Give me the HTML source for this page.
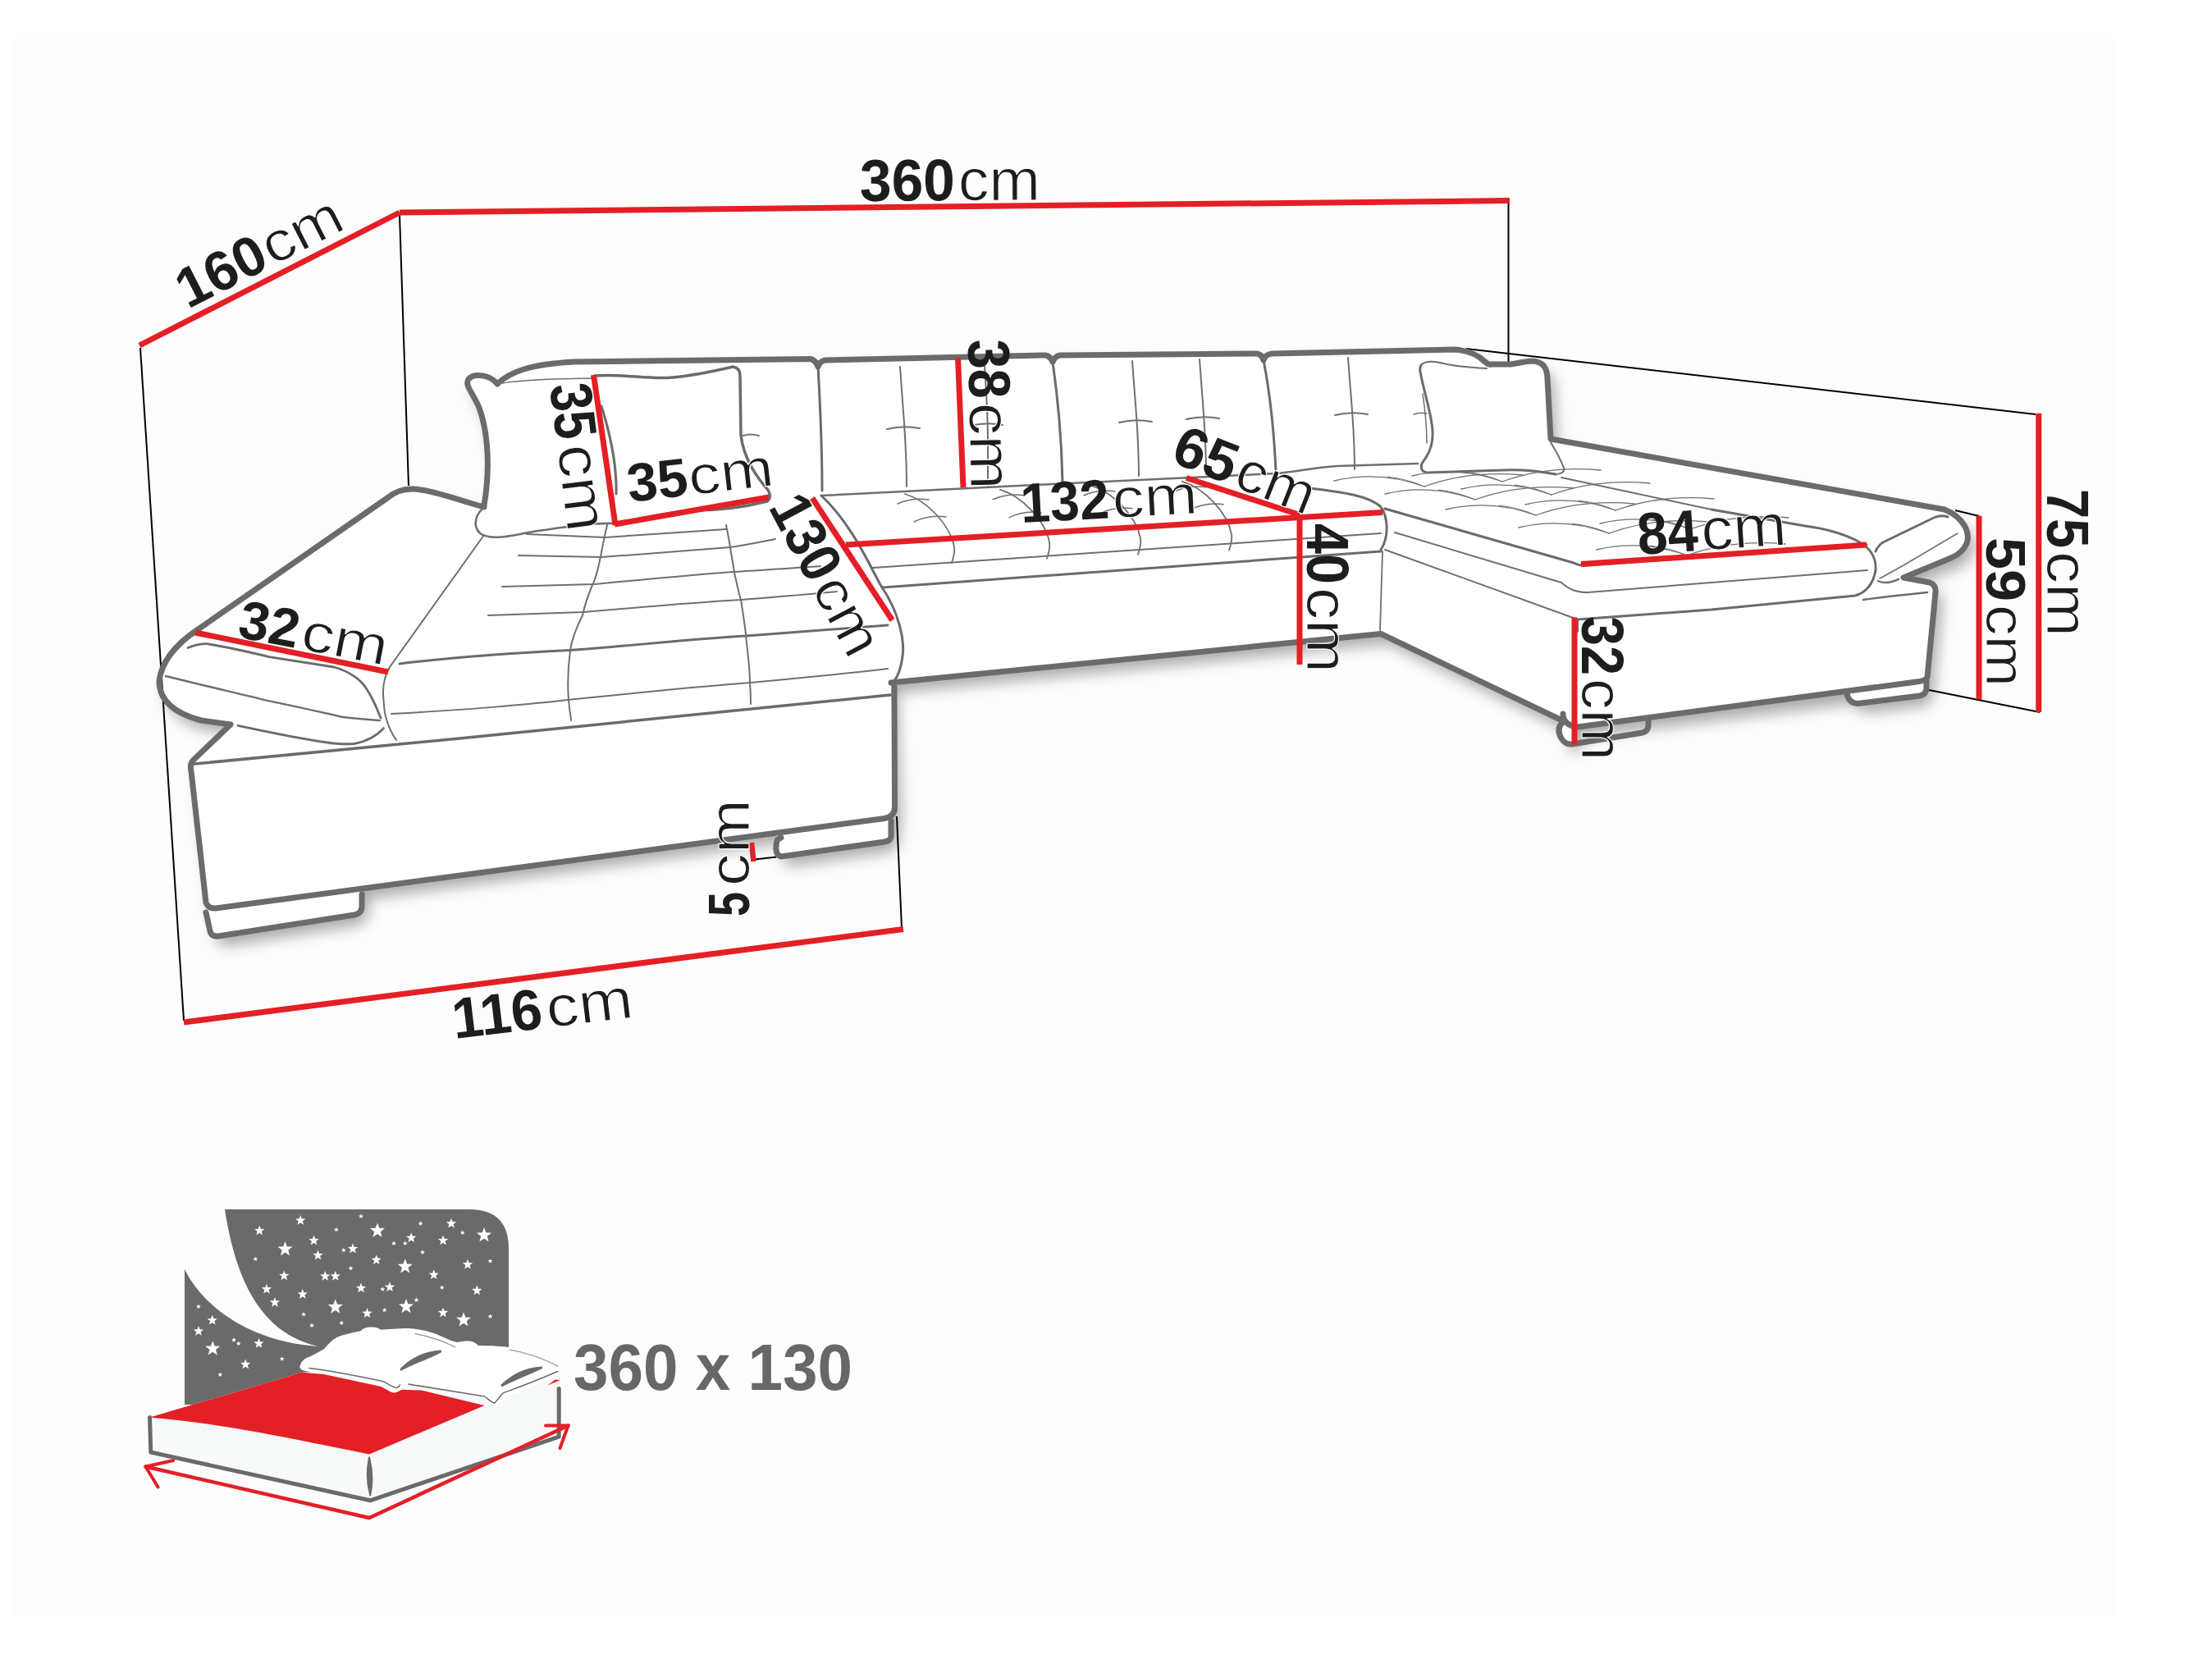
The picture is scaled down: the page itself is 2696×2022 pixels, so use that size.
<!DOCTYPE html>
<html><head><meta charset="utf-8"><style>
html,body{margin:0;padding:0;background:#fff;width:2696px;height:2022px;overflow:hidden}
svg{display:block;font-family:"Liberation Sans",sans-serif}
</style></head><body>
<svg width="2696" height="2022" viewBox="0 0 2696 2022">
<rect x="16" y="46" width="2562" height="1922" fill="#fdfdfd"/>
<defs><filter id="sh" x="-10%" y="-10%" width="120%" height="130%"><feGaussianBlur stdDeviation="9"/></filter></defs>
<path d="M472,607 C480,600 490,595 505,596 C530,598 560,610 590,618 C597,575 596,530 584,497 C576,478 566,470 571,462 C578,454 598,457 606,468 C622,453 645,444 700,441 L1773,426 C1790,427 1803,436 1815,445 L1840,444 C1850,443 1860,440 1868,440 C1882,441 1886,450 1886,462 L1890,535 L2370,621 C2392,630 2402,648 2397,662 C2393,672 2385,677 2378,680 L2320,704 L2352,710 Q2360,713 2359,722 L2349,825 L2348,838 L2340,848 L2264,857 L2251,845 L1923,886 L1916,907 L1903,900 L1905,880 L1683,772.5 L1086,832 L1090,985 L1086,1020 L1078,1026 L952,1044 L946,1032 L946,1015 L441,1083 L441,1105 L432,1115 L266,1141 L256,1135 L251,1100 L233,940 L235,927 L281,883 L245,878 C215,870 194,855 194,830 C197,805 215,785 240,768 Z" fill="#000" opacity="0.33" transform="translate(8,12)" filter="url(#sh)"/>
<path d="M472,607 C480,600 490,595 505,596 C530,598 560,610 590,618 C597,575 596,530 584,497 C576,478 566,470 571,462 C578,454 598,457 606,468 C622,453 645,444 700,441 L1773,426 C1790,427 1803,436 1815,445 L1840,444 C1850,443 1860,440 1868,440 C1882,441 1886,450 1886,462 L1890,535 L2370,621 C2392,630 2402,648 2397,662 C2393,672 2385,677 2378,680 L2320,704 L2352,710 Q2360,713 2359,722 L2349,825 L2348,838 L2340,848 L2264,857 L2251,845 L1923,886 L1916,907 L1903,900 L1905,880 L1683,772.5 L1086,832 L1090,985 L1086,1020 L1078,1026 L952,1044 L946,1032 L946,1015 L441,1083 L441,1105 L432,1115 L266,1141 L256,1135 L251,1100 L233,940 L235,927 L281,883 L245,878 C215,870 194,855 194,830 C197,805 215,785 240,768 Z" fill="#fff"/>
<line x1="171" y1="424" x2="224" y2="1244" stroke="#000" stroke-width="2"/>
<line x1="487" y1="262" x2="498" y2="592" stroke="#000" stroke-width="2"/>
<line x1="1838.5" y1="248" x2="1838.5" y2="444" stroke="#000" stroke-width="2"/>
<line x1="1787" y1="425" x2="2481" y2="505" stroke="#000" stroke-width="2"/>
<line x1="1093" y1="995" x2="1099" y2="1131" stroke="#000" stroke-width="2"/>
<line x1="2383" y1="622" x2="2412" y2="629" stroke="#000" stroke-width="2"/>
<line x1="2351" y1="841" x2="2486" y2="868" stroke="#000" stroke-width="2"/>
<line x1="920" y1="1047.5" x2="946" y2="1044.5" stroke="#000" stroke-width="2"/>
<path d="M590,616 C597,575 596,530 584,497 C576,478 566,470 571,462 C578,454 598,457 606,468 C622,453 645,444 700,441 L988,437.5 Q994,439 997,447 Q999,440 1006,439 L1274,433 Q1280,434 1283,441 Q1286,434 1292,433 L1532,431 Q1538,432 1540,439 Q1542,432 1550,431 L1773,426 C1790,427 1802,433 1810,441 Q1814,445 1818,444 L1840,444 C1850,443 1860,440 1868,440 C1882,441 1886,450 1886,462 L1890,535 L2370,621 C2392,630 2402,648 2397,662 C2393,672 2385,677 2378,680 L2320,704 L2352,710 Q2360,713 2359,722 L2349,825 Q2347,830 2336,831 L1923,886 Q1905,884 1905,870 " stroke="#6b6b6b" stroke-width="7" fill="none" stroke-linecap="round" stroke-linejoin="round" />
<path d="M590,618 C560,610 530,598 505,596 C490,595 480,600 472,607 L240,768 C215,785 197,805 194,830 C194,855 215,870 245,878 L281,883 L235,927 Q231,932 233,940 L251,1100 Q254,1108 263,1107 L1078,997.5 Q1090,995 1090.5,985 L1090,838" stroke="#6b6b6b" stroke-width="7" fill="none" stroke-linecap="round" stroke-linejoin="round" />
<path d="M1086,832 L1683,772.5 L1908,880" stroke="#6b6b6b" stroke-width="7" fill="none" stroke-linecap="round" stroke-linejoin="round" />
<path d="M251,1112 L256,1135 Q258,1142 266,1141 L432,1115 Q441,1113 441,1105 L441,1090" stroke="#6b6b6b" stroke-width="7" fill="none" stroke-linecap="round" stroke-linejoin="round" />
<path d="M1086,1000 L1086,1020 Q1085,1025 1078,1026 L952,1044 Q945,1042 946,1032 Q946,1022 952,1021" stroke="#6b6b6b" stroke-width="7" fill="none" stroke-linecap="round" stroke-linejoin="round" />
<path d="M1905,880 Q1896,888 1903,900 Q1908,908 1916,907 L2002,893 Q2009,891 2009,884 L2009,877" stroke="#6b6b6b" stroke-width="7" fill="none" stroke-linecap="round" stroke-linejoin="round" />
<path d="M2251,845 Q2253,857 2264,857.5 L2340,848 Q2348,846 2348,838 L2348,830" stroke="#6b6b6b" stroke-width="7" fill="none" stroke-linecap="round" stroke-linejoin="round" />
<path d="M274,1474 H572 Q620,1474 620,1522 V1712 H225 V1547 C250,1597 310,1636 388,1641 C330,1628 290,1580 274,1474 Z" fill="#6a6a6a"/>
<polygon points="366.2,1481.0 367.9,1485.3 372.4,1485.5 368.8,1488.3 370.1,1492.8 366.2,1490.2 362.4,1492.8 363.7,1488.3 360.1,1485.5 364.6,1485.3" fill="#fff"/>
<polygon points="316.2,1493.5 317.9,1497.8 322.4,1498.0 318.8,1500.8 320.1,1505.3 316.2,1502.7 312.4,1505.3 313.7,1500.8 310.1,1498.0 314.6,1497.8" fill="#fff"/>
<polygon points="440.0,1479.3 440.8,1481.4 443.0,1481.5 441.3,1482.9 441.9,1485.1 440.0,1483.8 438.1,1485.1 438.7,1482.9 437.0,1481.5 439.2,1481.4" fill="#fff"/>
<polygon points="410.0,1495.5 410.8,1497.7 413.0,1497.8 411.3,1499.2 411.9,1501.3 410.0,1500.1 408.1,1501.3 408.7,1499.2 407.0,1497.8 409.2,1497.7" fill="#fff"/>
<polygon points="460.0,1490.5 462.3,1496.8 469.0,1497.1 463.8,1501.2 465.6,1507.7 460.0,1504.0 454.4,1507.7 456.2,1501.2 451.0,1497.1 457.7,1496.8" fill="#fff"/>
<polygon points="512.5,1488.0 513.3,1490.2 515.5,1490.3 513.8,1491.7 514.4,1493.8 512.5,1492.6 510.6,1493.8 511.2,1491.7 509.5,1490.3 511.7,1490.2" fill="#fff"/>
<polygon points="550.0,1484.8 551.6,1489.0 556.2,1489.2 552.6,1492.1 553.8,1496.5 550.0,1494.0 546.2,1496.5 547.4,1492.1 543.8,1489.2 548.4,1489.0" fill="#fff"/>
<polygon points="563.8,1499.3 564.5,1501.4 566.8,1501.5 565.0,1502.9 565.6,1505.1 563.8,1503.8 561.9,1505.1 562.5,1502.9 560.7,1501.5 563.0,1501.4" fill="#fff"/>
<polygon points="590.0,1496.0 592.3,1502.3 599.0,1502.6 593.8,1506.7 595.6,1513.2 590.0,1509.5 584.4,1513.2 586.2,1506.7 581.0,1502.6 587.7,1502.3" fill="#fff"/>
<polygon points="382.5,1505.5 384.1,1509.8 388.7,1510.0 385.1,1512.8 386.3,1517.3 382.5,1514.7 378.7,1517.3 379.9,1512.8 376.3,1510.0 380.9,1509.8" fill="#fff"/>
<polygon points="501.2,1502.2 502.9,1506.5 507.4,1506.7 503.8,1509.6 505.1,1514.0 501.2,1511.5 497.4,1514.0 498.7,1509.6 495.1,1506.7 499.6,1506.5" fill="#fff"/>
<polygon points="540.0,1505.5 541.6,1509.8 546.2,1510.0 542.6,1512.8 543.8,1517.3 540.0,1514.7 536.2,1517.3 537.4,1512.8 533.8,1510.0 538.4,1509.8" fill="#fff"/>
<polygon points="480.0,1512.3 480.8,1514.4 483.0,1514.5 481.3,1515.9 481.9,1518.1 480.0,1516.8 478.1,1518.1 478.7,1515.9 477.0,1514.5 479.2,1514.4" fill="#fff"/>
<polygon points="493.8,1512.3 494.5,1514.4 496.8,1514.5 495.0,1515.9 495.6,1518.1 493.8,1516.8 491.9,1518.1 492.5,1515.9 490.7,1514.5 493.0,1514.4" fill="#fff"/>
<polygon points="347.5,1513.0 349.8,1519.3 356.5,1519.6 351.3,1523.7 353.1,1530.2 347.5,1526.5 341.9,1530.2 343.7,1523.7 338.5,1519.6 345.2,1519.3" fill="#fff"/>
<polygon points="418.8,1520.5 419.5,1522.7 421.8,1522.8 420.0,1524.2 420.6,1526.3 418.8,1525.1 416.9,1526.3 417.5,1524.2 415.7,1522.8 418.0,1522.7" fill="#fff"/>
<polygon points="430.0,1515.5 431.6,1519.8 436.2,1520.0 432.6,1522.8 433.8,1527.3 430.0,1524.7 426.2,1527.3 427.4,1522.8 423.8,1520.0 428.4,1519.8" fill="#fff"/>
<polygon points="515.0,1523.0 515.8,1525.2 518.0,1525.3 516.3,1526.7 516.9,1528.8 515.0,1527.6 513.1,1528.8 513.7,1526.7 512.0,1525.3 514.2,1525.2" fill="#fff"/>
<polygon points="311.2,1531.3 312.0,1533.4 314.3,1533.5 312.5,1534.9 313.1,1537.1 311.2,1535.8 309.4,1537.1 310.0,1534.9 308.2,1533.5 310.5,1533.4" fill="#fff"/>
<polygon points="387.5,1523.5 389.1,1527.8 393.7,1528.0 390.1,1530.8 391.3,1535.3 387.5,1532.7 383.7,1535.3 384.9,1530.8 381.3,1528.0 385.9,1527.8" fill="#fff"/>
<polygon points="458.8,1529.2 460.4,1533.5 464.9,1533.7 461.3,1536.6 462.6,1541.0 458.8,1538.5 454.9,1541.0 456.2,1536.6 452.6,1533.7 457.1,1533.5" fill="#fff"/>
<polygon points="597.5,1533.8 598.3,1535.9 600.5,1536.0 598.8,1537.4 599.4,1539.6 597.5,1538.3 595.6,1539.6 596.2,1537.4 594.5,1536.0 596.7,1535.9" fill="#fff"/>
<polygon points="493.8,1534.2 496.1,1540.5 502.8,1540.8 497.5,1545.0 499.3,1551.4 493.8,1547.7 488.2,1551.4 490.0,1545.0 484.7,1540.8 491.4,1540.5" fill="#fff"/>
<polygon points="570.0,1534.8 571.6,1539.0 576.2,1539.2 572.6,1542.1 573.8,1546.5 570.0,1544.0 566.2,1546.5 567.4,1542.1 563.8,1539.2 568.4,1539.0" fill="#fff"/>
<polygon points="427.5,1542.5 428.3,1544.7 430.5,1544.8 428.8,1546.2 429.4,1548.3 427.5,1547.1 425.6,1548.3 426.2,1546.2 424.5,1544.8 426.7,1544.7" fill="#fff"/>
<polygon points="346.2,1548.5 347.9,1552.8 352.4,1553.0 348.8,1555.8 350.1,1560.3 346.2,1557.7 342.4,1560.3 343.7,1555.8 340.1,1553.0 344.6,1552.8" fill="#fff"/>
<polygon points="396.2,1549.0 397.9,1553.3 402.4,1553.5 398.8,1556.3 400.1,1560.8 396.2,1558.2 392.4,1560.8 393.7,1556.3 390.1,1553.5 394.6,1553.3" fill="#fff"/>
<polygon points="408.8,1549.0 410.4,1553.3 414.9,1553.5 411.3,1556.3 412.6,1560.8 408.8,1558.2 404.9,1560.8 406.2,1556.3 402.6,1553.5 407.1,1553.3" fill="#fff"/>
<polygon points="528.8,1547.2 530.4,1551.5 534.9,1551.7 531.3,1554.6 532.6,1559.0 528.8,1556.5 524.9,1559.0 526.2,1554.6 522.6,1551.7 527.1,1551.5" fill="#fff"/>
<polygon points="440.0,1563.5 441.6,1567.8 446.2,1568.0 442.6,1570.8 443.8,1575.3 440.0,1572.7 436.2,1575.3 437.4,1570.8 433.8,1568.0 438.4,1567.8" fill="#fff"/>
<polygon points="466.2,1568.0 467.0,1570.2 469.3,1570.3 467.5,1571.7 468.1,1573.8 466.2,1572.6 464.4,1573.8 465.0,1571.7 463.2,1570.3 465.5,1570.2" fill="#fff"/>
<polygon points="475.0,1562.2 476.6,1566.5 481.2,1566.7 477.6,1569.6 478.8,1574.0 475.0,1571.5 471.2,1574.0 472.4,1569.6 468.8,1566.7 473.4,1566.5" fill="#fff"/>
<polygon points="538.8,1566.0 539.5,1568.2 541.8,1568.3 540.0,1569.7 540.6,1571.8 538.8,1570.6 536.9,1571.8 537.5,1569.7 535.7,1568.3 538.0,1568.2" fill="#fff"/>
<polygon points="581.2,1566.5 582.9,1570.8 587.4,1571.0 583.8,1573.8 585.1,1578.3 581.2,1575.7 577.4,1578.3 578.7,1573.8 575.1,1571.0 579.6,1570.8" fill="#fff"/>
<polygon points="325.0,1564.8 326.6,1569.0 331.2,1569.2 327.6,1572.1 328.8,1576.5 325.0,1574.0 321.2,1576.5 322.4,1572.1 318.8,1569.2 323.4,1569.0" fill="#fff"/>
<polygon points="368.8,1571.0 370.4,1575.3 374.9,1575.5 371.3,1578.3 372.6,1582.8 368.8,1580.2 364.9,1582.8 366.2,1578.3 362.6,1575.5 367.1,1575.3" fill="#fff"/>
<polygon points="335.0,1581.0 336.6,1585.3 341.2,1585.5 337.6,1588.3 338.8,1592.8 335.0,1590.2 331.2,1592.8 332.4,1588.3 328.8,1585.5 333.4,1585.3" fill="#fff"/>
<polygon points="507.5,1581.3 508.3,1583.4 510.5,1583.5 508.8,1584.9 509.4,1587.1 507.5,1585.8 505.6,1587.1 506.2,1584.9 504.5,1583.5 506.7,1583.4" fill="#fff"/>
<polygon points="408.8,1583.5 411.1,1589.8 417.8,1590.1 412.5,1594.2 414.3,1600.7 408.8,1597.0 403.2,1600.7 405.0,1594.2 399.7,1590.1 406.4,1589.8" fill="#fff"/>
<polygon points="495.0,1583.0 497.3,1589.3 504.0,1589.6 498.8,1593.7 500.6,1600.2 495.0,1596.5 489.4,1600.2 491.2,1593.7 486.0,1589.6 492.7,1589.3" fill="#fff"/>
<polygon points="447.5,1594.2 449.1,1598.5 453.7,1598.7 450.1,1601.6 451.3,1606.0 447.5,1603.5 443.7,1606.0 444.9,1601.6 441.3,1598.7 445.9,1598.5" fill="#fff"/>
<polygon points="468.8,1593.5 469.5,1595.7 471.8,1595.8 470.0,1597.2 470.6,1599.3 468.8,1598.1 466.9,1599.3 467.5,1597.2 465.7,1595.8 468.0,1595.7" fill="#fff"/>
<polygon points="540.0,1593.5 541.6,1597.8 546.2,1598.0 542.6,1600.8 543.8,1605.3 540.0,1602.7 536.2,1605.3 537.4,1600.8 533.8,1598.0 538.4,1597.8" fill="#fff"/>
<polygon points="597.5,1601.3 598.3,1603.4 600.5,1603.5 598.8,1604.9 599.4,1607.1 597.5,1605.8 595.6,1607.1 596.2,1604.9 594.5,1603.5 596.7,1603.4" fill="#fff"/>
<polygon points="370.0,1598.8 370.8,1600.9 373.0,1601.0 371.3,1602.4 371.9,1604.6 370.0,1603.3 368.1,1604.6 368.7,1602.4 367.0,1601.0 369.2,1600.9" fill="#fff"/>
<polygon points="565.0,1599.2 567.3,1605.5 574.0,1605.8 568.8,1610.0 570.6,1616.4 565.0,1612.7 559.4,1616.4 561.2,1610.0 556.0,1605.8 562.7,1605.5" fill="#fff"/>
<polygon points="416.2,1609.3 417.0,1611.4 419.3,1611.5 417.5,1612.9 418.1,1615.1 416.2,1613.8 414.4,1615.1 415.0,1612.9 413.2,1611.5 415.5,1611.4" fill="#fff"/>
<polygon points="380.0,1612.3 380.8,1614.4 383.0,1614.5 381.3,1615.9 381.9,1618.1 380.0,1616.8 378.1,1618.1 378.7,1615.9 377.0,1614.5 379.2,1614.4" fill="#fff"/>
<polygon points="242.0,1589.3 242.8,1591.4 245.0,1591.5 243.3,1592.9 243.9,1595.1 242.0,1593.8 240.1,1595.1 240.7,1592.9 239.0,1591.5 241.2,1591.4" fill="#fff"/>
<polygon points="258.8,1602.8 260.4,1607.0 264.9,1607.2 261.3,1610.1 262.6,1614.5 258.8,1612.0 254.9,1614.5 256.2,1610.1 252.6,1607.2 257.1,1607.0" fill="#fff"/>
<polygon points="242.0,1616.0 243.6,1620.3 248.2,1620.5 244.6,1623.3 245.8,1627.8 242.0,1625.2 238.2,1627.8 239.4,1623.3 235.8,1620.5 240.4,1620.3" fill="#fff"/>
<polygon points="285.0,1630.0 285.8,1632.2 288.0,1632.3 286.3,1633.7 286.9,1635.8 285.0,1634.6 283.1,1635.8 283.7,1633.7 282.0,1632.3 284.2,1632.2" fill="#fff"/>
<polygon points="290.8,1634.3 291.5,1636.4 293.8,1636.5 292.0,1637.9 292.6,1640.1 290.8,1638.8 288.9,1640.1 289.5,1637.9 287.7,1636.5 290.0,1636.4" fill="#fff"/>
<polygon points="315.5,1631.0 317.1,1635.3 321.7,1635.5 318.1,1638.3 319.3,1642.8 315.5,1640.2 311.7,1642.8 312.9,1638.3 309.3,1635.5 313.9,1635.3" fill="#fff"/>
<polygon points="259.2,1634.2 261.6,1640.5 268.3,1640.8 263.0,1645.0 264.8,1651.4 259.2,1647.7 253.7,1651.4 255.5,1645.0 250.2,1640.8 256.9,1640.5" fill="#fff"/>
<polygon points="343.8,1653.0 344.5,1655.2 346.8,1655.3 345.0,1656.7 345.6,1658.8 343.8,1657.6 341.9,1658.8 342.5,1656.7 340.7,1655.3 343.0,1655.2" fill="#fff"/>
<polygon points="299.2,1656.5 300.9,1660.8 305.4,1661.0 301.8,1663.8 303.1,1668.3 299.2,1665.7 295.4,1668.3 296.7,1663.8 293.1,1661.0 297.6,1660.8" fill="#fff"/>
<polygon points="268.2,1672.3 269.0,1674.4 271.3,1674.5 269.5,1675.9 270.1,1678.1 268.2,1676.8 266.4,1678.1 267.0,1675.9 265.2,1674.5 267.5,1674.4" fill="#fff"/>
<path d="M182.5,1727.5 L368.8,1672.5 L682.5,1665.0 L681.2,1752.5 L451.2,1830.0 L183.8,1770.0 Z" fill="#f8f9f9"/>
<path d="M182.5,1727.5 L183.8,1770.0 L451.2,1828.8 L681.2,1751.2 L681.2,1692.5" stroke="#6a6a6a" stroke-width="5" fill="none" stroke-linecap="round" stroke-linejoin="round" />
<path d="M450.0,1776.2 Q445.0,1800.0 451.2,1822.5 Q456.2,1800.0 450.0,1776.2 Z" stroke="#6a6a6a" stroke-width="2" fill="#6a6a6a" stroke-linecap="round" stroke-linejoin="round" />
<path d="M366,1664 C368,1658 372,1656 375,1654.6 C385,1650 392,1646 395,1644 C400,1638 405,1633 410.7,1630 C420,1626 432,1624 440,1622 C442,1619 446,1617.5 452,1617.5 C458,1617 462,1619 464.5,1620.8 C480,1619.5 490,1619 498.3,1619 C510,1620 520,1622 529,1625 C540,1629 548,1634 556.7,1636 C562,1635 570,1634 575,1635 C579,1636 581,1638 583,1640 C600,1640 612,1641 621.3,1642 C635,1645 645,1647 652,1650 C665,1655 675,1659 682.8,1663.8 C685,1666 685,1671 681,1674.5 C676,1678 672,1680 667.4,1682 C650,1690 635,1696 621,1700.7 C616,1705 613,1709 609,1710 C605,1712 602,1712 599.8,1711.4 C595,1710 592,1707 589,1705 C565,1700 535,1694 513.7,1690 C505,1688.5 498,1687 493.7,1687 C492,1690 490,1692 489,1693 C486,1697 483,1698.5 481.4,1698.4 C477,1697 474,1694 472.2,1693 C468,1691 464,1689 460,1688.4 C450,1686 443,1684 436.9,1682 C420,1679 405,1676 390.7,1674.6 C380,1673 373,1671 369,1670 C365,1668 365,1666 366,1664 Z" fill="#fff"/>
<path d="M360,1672 L395,1675 L464.5,1690 C472,1694 476,1697 480,1697.6 C485,1697 488,1694 490.6,1693.8 L513.7,1694.5 L590.5,1713 L450,1772.5 C375,1757.5 275,1735 182.5,1727.5 L368.75,1672.5 Z" fill="#e41f26"/>
<path d="M667.4,1688.4 L676.6,1681.5 L682.8,1682 Z" fill="#e41f26"/>
<path d="M377,1667.6 C410,1672 440,1678 467.6,1683.8 C475,1688 479,1691 483,1691.5 C485,1691 486.5,1689.5 487.6,1688" stroke="#6a6a6a" stroke-width="1.5" fill="none" stroke-linecap="round" stroke-linejoin="round" />
<path d="M498,1687 C530,1692 560,1697 590.5,1702 C595,1705 598,1709 602.8,1710 C607,1706 610,1700 613.6,1697.6 C640,1688 660,1680 679.7,1671.5" stroke="#6a6a6a" stroke-width="1.5" fill="none" stroke-linecap="round" stroke-linejoin="round" />
<path d="M506,1625.4 C525,1629 540,1634 555,1642" stroke="#8a8a8a" stroke-width="1.2" fill="none" stroke-linecap="round" stroke-linejoin="round" />
<path d="M621,1645 C640,1648 660,1655 680,1665" stroke="#8a8a8a" stroke-width="1.2" fill="none" stroke-linecap="round" stroke-linejoin="round" />
<path d="M489,1669 C500,1657 518,1648 536.8,1647 C530,1652 505,1660 489,1669 Z" fill="#6a6a6a" stroke="#6a6a6a" stroke-width="3" stroke-linejoin="round"/>
<path d="M612,1688.4 C625,1676 642,1668 659.7,1667 C650,1672 628,1680 612,1688.4 Z" fill="#6a6a6a" stroke="#6a6a6a" stroke-width="3" stroke-linejoin="round"/>
<path d="M177.5,1787.5 L450.0,1850.0 L692.5,1737.5" stroke="#e41f26" stroke-width="4.5" fill="none" stroke-linecap="round" stroke-linejoin="round" />
<path d="M211.2,1780.0 L177.5,1787.5 L192.5,1812.5" stroke="#e41f26" stroke-width="4" fill="none" stroke-linecap="round" stroke-linejoin="round" />
<path d="M665.0,1737.5 L692.5,1737.5 L682.5,1765.0" stroke="#e41f26" stroke-width="4" fill="none" stroke-linecap="round" stroke-linejoin="round" />
<path d="M725,458 C760,455 790,463 820,460 C850,457 880,450 893,447 Q902,448 902,458 L903,530 C906,560 925,585 936,597 Q941,606 935,611 C900,620 870,622 845,622 C810,625 780,633 750,638" stroke="#6b6b6b" stroke-width="3.5" fill="none" stroke-linecap="round" stroke-linejoin="round" />
<path d="M733,495 C744,530 752,565 751,602" stroke="#6f6f6f" stroke-width="3.2" fill="none" stroke-linecap="round" stroke-linejoin="round" />
<path d="M592,617 C580,625 575,640 585,650 C600,660 625,652 650,648 C690,642 720,637 749,638" stroke="#6f6f6f" stroke-width="2.6" fill="none" stroke-linecap="round" stroke-linejoin="round" />
<path d="M606,468 C640,462 680,462 724,461" stroke="#6f6f6f" stroke-width="1.5" fill="none" stroke-linecap="round" stroke-linejoin="round" />
<path d="M997,447 C1000,500 1002,560 1002,598" stroke="#6b6b6b" stroke-width="3" fill="none" stroke-linecap="round" stroke-linejoin="round" />
<path d="M1283,441 C1290,490 1294,540 1295,587" stroke="#6b6b6b" stroke-width="3" fill="none" stroke-linecap="round" stroke-linejoin="round" />
<path d="M1540,439 C1548,480 1553,530 1555,575" stroke="#6b6b6b" stroke-width="3" fill="none" stroke-linecap="round" stroke-linejoin="round" />
<path d="M1097,447 C1102,520.0 1105,540.0 1105,593" stroke="#6f6f6f" stroke-width="2" fill="none" stroke-linecap="round" stroke-linejoin="round" />
<path d="M1081.0,523 Q1101.0,518 1121.0,522" stroke="#6f6f6f" stroke-width="2" fill="none" stroke-linecap="round" stroke-linejoin="round" />
<path d="M1200,446 C1205,519.0 1204,539.0 1204,592" stroke="#6f6f6f" stroke-width="2" fill="none" stroke-linecap="round" stroke-linejoin="round" />
<path d="M1182.0,519 Q1202.0,514 1222.0,518" stroke="#6f6f6f" stroke-width="2" fill="none" stroke-linecap="round" stroke-linejoin="round" />
<path d="M1380,440 C1385,510.0 1388,530.0 1388,580" stroke="#6f6f6f" stroke-width="2" fill="none" stroke-linecap="round" stroke-linejoin="round" />
<path d="M1364.0,515 Q1384.0,510 1404.0,514" stroke="#6f6f6f" stroke-width="2" fill="none" stroke-linecap="round" stroke-linejoin="round" />
<path d="M1462,438 C1467,508.0 1470,528.0 1470,578" stroke="#6f6f6f" stroke-width="2" fill="none" stroke-linecap="round" stroke-linejoin="round" />
<path d="M1446.0,511 Q1466.0,506 1486.0,510" stroke="#6f6f6f" stroke-width="2" fill="none" stroke-linecap="round" stroke-linejoin="round" />
<path d="M1643,436 C1648,504.0 1651,524.0 1651,572" stroke="#6f6f6f" stroke-width="2" fill="none" stroke-linecap="round" stroke-linejoin="round" />
<path d="M1627.0,506 Q1647.0,501 1667.0,505" stroke="#6f6f6f" stroke-width="2" fill="none" stroke-linecap="round" stroke-linejoin="round" />
<path d="M906,531 Q915,528 925,531" stroke="#6f6f6f" stroke-width="2" fill="none" stroke-linecap="round" stroke-linejoin="round" />
<path d="M1001,604 L1283,590 L1555,577 C1580,575 1600,570 1630,568 L1728,565" stroke="#6f6f6f" stroke-width="2.5" fill="none" stroke-linecap="round" stroke-linejoin="round" />
<path d="M1595,595 C1640,600 1670,605 1683,618 C1692,630 1693,655 1683,670" stroke="#6b6b6b" stroke-width="3" fill="none" stroke-linecap="round" stroke-linejoin="round" />
<path d="M1685,672 L1682,768" stroke="#6f6f6f" stroke-width="1.8" fill="none" stroke-linecap="round" stroke-linejoin="round" />
<path d="M1064,692 L1683,650" stroke="#6f6f6f" stroke-width="2" fill="none" stroke-linecap="round" stroke-linejoin="round" />
<path d="M1076,716 L1683,672" stroke="#6b6b6b" stroke-width="3" fill="none" stroke-linecap="round" stroke-linejoin="round" />
<path d="M1001,604 C1040,640 1065,700 1075,716 C1095,745 1103,780 1100,800 C1098,815 1093,828 1086,834" stroke="#6b6b6b" stroke-width="3" fill="none" stroke-linecap="round" stroke-linejoin="round" />
<path d="M590,652 L475,813 C468,825 466,840 467.5,853 C468,863 469,870 470.6,875 C474,888 478,895 483,902" stroke="#6f6f6f" stroke-width="2" fill="none" stroke-linecap="round" stroke-linejoin="round" />
<path d="M487,809 C520,805 600,797 695,792.5 C760,788 850,778 910,775 C980,770 1040,765 1082,762" stroke="#6b6b6b" stroke-width="3" fill="none" stroke-linecap="round" stroke-linejoin="round" />
<path d="M477,870 C560,866 650,858 692,853 C760,846 860,836 915,832 C980,826 1040,820 1082,815" stroke="#6f6f6f" stroke-width="2" fill="none" stroke-linecap="round" stroke-linejoin="round" />
<path d="M237,931 L560,900 L1085,847" stroke="#6b6b6b" stroke-width="3.5" fill="none" stroke-linecap="round" stroke-linejoin="round" />
<path d="M642,651 L737,655 C780,652 840,648 885,645" stroke="#6f6f6f" stroke-width="2" fill="none" stroke-linecap="round" stroke-linejoin="round" />
<path d="M632,677 L733,679 C790,675 850,670 890,667 C910,664 930,660 945,657" stroke="#6f6f6f" stroke-width="2" fill="none" stroke-linecap="round" stroke-linejoin="round" />
<path d="M612,715 L725,712 C790,706 850,700 893,697 C940,694 975,692 1000,690" stroke="#6f6f6f" stroke-width="2" fill="none" stroke-linecap="round" stroke-linejoin="round" />
<path d="M595,750 L711,746 C780,740 850,734 903,731 C950,727 990,724 1020,721" stroke="#6f6f6f" stroke-width="2" fill="none" stroke-linecap="round" stroke-linejoin="round" />
<path d="M740,640 C735,660 733,675 732,678 C728,700 723,712 722,713 C715,730 711,745 710,750 C700,770 696,785 695,793 C692,815 692,840 693,853 C694,865 696,875 696,878" stroke="#6f6f6f" stroke-width="2" fill="none" stroke-linecap="round" stroke-linejoin="round" />
<path d="M885,640 C888,655 890,665 890,668 C893,685 895,697 895,698 C899,715 902,730 903,731 C906,750 909,770 909,775 C912,800 914,820 914,833 C915,845 915,855 915,858" stroke="#6f6f6f" stroke-width="2" fill="none" stroke-linecap="round" stroke-linejoin="round" />
<path d="M229,789.5 C238,786 245,784.5 252,784.7 C280,789 305,795 328,800.6 L407,813 C425,818 440,828 447,840 C455,852 460,865 464,875" stroke="#6b6b6b" stroke-width="2.8" fill="none" stroke-linecap="round" stroke-linejoin="round" />
<path d="M290,884.4 C330,893 370,901 399,905 C410,907 420,907 431,906.6 C450,903 460,896 467.5,887.6" stroke="#6b6b6b" stroke-width="2.8" fill="none" stroke-linecap="round" stroke-linejoin="round" />
<path d="M202,824 C250,836 290,845 328,854.4 C370,863 400,870 415,873.4 C435,876 450,877 463,878" stroke="#6f6f6f" stroke-width="2.5" fill="none" stroke-linecap="round" stroke-linejoin="round" />
<path d="M1688,620 L1918,686 Q1925,690 1935,689 L2086,678 L2275,664" stroke="#6b6b6b" stroke-width="3" fill="none" stroke-linecap="round" stroke-linejoin="round" />
<path d="M1700,649 L1903,710 C1912,718 1920,722 1935,722 L2086,710 L2276,695" stroke="#6f6f6f" stroke-width="2" fill="none" stroke-linecap="round" stroke-linejoin="round" />
<path d="M1688,670 L1923,755" stroke="#6f6f6f" stroke-width="2" fill="none" stroke-linecap="round" stroke-linejoin="round" />
<path d="M1923,755 L2086,743 L2261,726 C2275,722 2283,712 2286,695" stroke="#6b6b6b" stroke-width="3" fill="none" stroke-linecap="round" stroke-linejoin="round" />
<path d="M2286,695 C2287,680 2280,668 2265,660 C2250,652 2230,645 2200,641 L2086,621" stroke="#6b6b6b" stroke-width="2.8" fill="none" stroke-linecap="round" stroke-linejoin="round" />
<path d="M2086,621 L1903,582" stroke="#6f6f6f" stroke-width="2" fill="none" stroke-linecap="round" stroke-linejoin="round" />
<path d="M1923,755 L1923,770" stroke="#6f6f6f" stroke-width="2" fill="none" stroke-linecap="round" stroke-linejoin="round" />
<path d="M2286,672 C2288,667 2290,664 2295,661 L2357,631 Q2366,627 2374,630" stroke="#6b6b6b" stroke-width="3" fill="none" stroke-linecap="round" stroke-linejoin="round" />
<path d="M2291,705 C2320,690 2360,665 2386,650" stroke="#6f6f6f" stroke-width="1.5" fill="none" stroke-linecap="round" stroke-linejoin="round" />
<path d="M2289,708 C2295,711 2303,711 2314,706" stroke="#6f6f6f" stroke-width="2.5" fill="none" stroke-linecap="round" stroke-linejoin="round" />
<path d="M2271,731 C2300,727 2330,724 2349,722" stroke="#6b6b6b" stroke-width="2.5" fill="none" stroke-linecap="round" stroke-linejoin="round" />
<path d="M1812,449 C1790,448 1770,446 1755,442 C1745,440 1736,440 1732,445" stroke="#6f6f6f" stroke-width="2" fill="none" stroke-linecap="round" stroke-linejoin="round" />
<path d="M1732,445 Q1730,449 1731,453 C1736,480 1745,505 1746,525 C1747,545 1740,555 1733,565 Q1730,575 1740,576 L1833,573 C1860,572 1880,575 1896,578" stroke="#6b6b6b" stroke-width="3" fill="none" stroke-linecap="round" stroke-linejoin="round" />
<path d="M1896,578 Q1908,577 1906,570 C1900,555 1893,545 1889,537" stroke="#6f6f6f" stroke-width="2" fill="none" stroke-linecap="round" stroke-linejoin="round" />
<path d="M1734,480 C1737,500 1739,520 1739,540" stroke="#6f6f6f" stroke-width="1.5" fill="none" stroke-linecap="round" stroke-linejoin="round" />
<path d="M1723,505 Q1730,502 1739,504" stroke="#6f6f6f" stroke-width="1.5" fill="none" stroke-linecap="round" stroke-linejoin="round" />
<path d="M1094,614.0 Q1112,606.0 1132,609.0" stroke="#6f6f6f" stroke-width="1.5" fill="none" stroke-linecap="round" stroke-linejoin="round" />
<path d="M1114,636.0 Q1132,627.0 1153,630.0" stroke="#6f6f6f" stroke-width="1.5" fill="none" stroke-linecap="round" stroke-linejoin="round" />
<path d="M1103,602.0 C1130,610.0 1158,640.0 1163,666.0 C1164,672.0 1162,680.0 1160,686.0" stroke="#6f6f6f" stroke-width="1.8" fill="none" stroke-linecap="round" stroke-linejoin="round" />
<path d="M1210,608.8 Q1228,600.8 1248,603.8" stroke="#6f6f6f" stroke-width="1.5" fill="none" stroke-linecap="round" stroke-linejoin="round" />
<path d="M1230,630.8 Q1248,621.8 1269,624.8" stroke="#6f6f6f" stroke-width="1.5" fill="none" stroke-linecap="round" stroke-linejoin="round" />
<path d="M1219,596.8 C1246,604.8 1274,634.8 1279,660.8 C1280,666.8 1278,674.8 1276,680.8" stroke="#6f6f6f" stroke-width="1.8" fill="none" stroke-linecap="round" stroke-linejoin="round" />
<path d="M1321,603.8 Q1339,595.8 1359,598.8" stroke="#6f6f6f" stroke-width="1.5" fill="none" stroke-linecap="round" stroke-linejoin="round" />
<path d="M1341,625.8 Q1359,616.8 1380,619.8" stroke="#6f6f6f" stroke-width="1.5" fill="none" stroke-linecap="round" stroke-linejoin="round" />
<path d="M1330,591.8 C1357,599.8 1385,629.8 1390,655.8 C1391,661.8 1389,669.8 1387,675.8" stroke="#6f6f6f" stroke-width="1.8" fill="none" stroke-linecap="round" stroke-linejoin="round" />
<path d="M1432,598.8 Q1450,590.8 1470,593.8" stroke="#6f6f6f" stroke-width="1.5" fill="none" stroke-linecap="round" stroke-linejoin="round" />
<path d="M1452,620.8 Q1470,611.8 1491,614.8" stroke="#6f6f6f" stroke-width="1.5" fill="none" stroke-linecap="round" stroke-linejoin="round" />
<path d="M1441,586.8 C1468,594.8 1496,624.8 1501,650.8 C1502,656.8 1500,664.8 1498,670.8" stroke="#6f6f6f" stroke-width="1.8" fill="none" stroke-linecap="round" stroke-linejoin="round" />
<path d="M1626,586 Q1681,573 1736,593" stroke="#6f6f6f" stroke-width="1.3" fill="none" stroke-linecap="round" stroke-linejoin="round" />
<path d="M1736,593 Q1791,573 1856,579" stroke="#6f6f6f" stroke-width="1.3" fill="none" stroke-linecap="round" stroke-linejoin="round" />
<path d="M1691,581 Q1716,584 1736,593" stroke="#6f6f6f" stroke-width="1.0" fill="none" stroke-linecap="round" stroke-linejoin="round" />
<path d="M1688,602 Q1743,589 1798,609" stroke="#6f6f6f" stroke-width="1.3" fill="none" stroke-linecap="round" stroke-linejoin="round" />
<path d="M1798,609 Q1853,589 1918,595" stroke="#6f6f6f" stroke-width="1.3" fill="none" stroke-linecap="round" stroke-linejoin="round" />
<path d="M1753,597 Q1778,600 1798,609" stroke="#6f6f6f" stroke-width="1.0" fill="none" stroke-linecap="round" stroke-linejoin="round" />
<path d="M1762,621 Q1817,608 1872,628" stroke="#6f6f6f" stroke-width="1.3" fill="none" stroke-linecap="round" stroke-linejoin="round" />
<path d="M1872,628 Q1927,608 1992,614" stroke="#6f6f6f" stroke-width="1.3" fill="none" stroke-linecap="round" stroke-linejoin="round" />
<path d="M1827,616 Q1852,619 1872,628" stroke="#6f6f6f" stroke-width="1.0" fill="none" stroke-linecap="round" stroke-linejoin="round" />
<path d="M1851,643 Q1906,630 1961,650" stroke="#6f6f6f" stroke-width="1.3" fill="none" stroke-linecap="round" stroke-linejoin="round" />
<path d="M1961,650 Q2016,630 2081,636" stroke="#6f6f6f" stroke-width="1.3" fill="none" stroke-linecap="round" stroke-linejoin="round" />
<path d="M1916,638 Q1941,641 1961,650" stroke="#6f6f6f" stroke-width="1.0" fill="none" stroke-linecap="round" stroke-linejoin="round" />
<path d="M1946,670 Q2001,657 2056,677" stroke="#6f6f6f" stroke-width="1.3" fill="none" stroke-linecap="round" stroke-linejoin="round" />
<path d="M2056,677 Q2111,657 2176,663" stroke="#6f6f6f" stroke-width="1.3" fill="none" stroke-linecap="round" stroke-linejoin="round" />
<path d="M2011,665 Q2036,668 2056,677" stroke="#6f6f6f" stroke-width="1.0" fill="none" stroke-linecap="round" stroke-linejoin="round" />
<path d="M1721,580 Q1776,567 1831,587" stroke="#6f6f6f" stroke-width="1.3" fill="none" stroke-linecap="round" stroke-linejoin="round" />
<path d="M1831,587 Q1886,567 1951,573" stroke="#6f6f6f" stroke-width="1.3" fill="none" stroke-linecap="round" stroke-linejoin="round" />
<path d="M1786,575 Q1811,578 1831,587" stroke="#6f6f6f" stroke-width="1.0" fill="none" stroke-linecap="round" stroke-linejoin="round" />
<path d="M1781,596 Q1836,583 1891,603" stroke="#6f6f6f" stroke-width="1.3" fill="none" stroke-linecap="round" stroke-linejoin="round" />
<path d="M1891,603 Q1946,583 2011,589" stroke="#6f6f6f" stroke-width="1.3" fill="none" stroke-linecap="round" stroke-linejoin="round" />
<path d="M1846,591 Q1871,594 1891,603" stroke="#6f6f6f" stroke-width="1.0" fill="none" stroke-linecap="round" stroke-linejoin="round" />
<path d="M1859,615 Q1914,602 1969,622" stroke="#6f6f6f" stroke-width="1.3" fill="none" stroke-linecap="round" stroke-linejoin="round" />
<path d="M1969,622 Q2024,602 2089,608" stroke="#6f6f6f" stroke-width="1.3" fill="none" stroke-linecap="round" stroke-linejoin="round" />
<path d="M1924,610 Q1949,613 1969,622" stroke="#6f6f6f" stroke-width="1.0" fill="none" stroke-linecap="round" stroke-linejoin="round" />
<path d="M1950,638 Q2005,625 2060,645" stroke="#6f6f6f" stroke-width="1.3" fill="none" stroke-linecap="round" stroke-linejoin="round" />
<path d="M2060,645 Q2115,625 2180,631" stroke="#6f6f6f" stroke-width="1.3" fill="none" stroke-linecap="round" stroke-linejoin="round" />
<path d="M2015,633 Q2040,636 2060,645" stroke="#6f6f6f" stroke-width="1.0" fill="none" stroke-linecap="round" stroke-linejoin="round" />
<line x1="170" y1="421" x2="487" y2="259" stroke="#e41f26" stroke-width="7"/>
<line x1="487" y1="259" x2="1840" y2="244.5" stroke="#e41f26" stroke-width="7"/>
<line x1="224" y1="1246" x2="1101" y2="1132.5" stroke="#e41f26" stroke-width="7"/>
<line x1="916" y1="1027" x2="918.5" y2="1050" stroke="#e41f26" stroke-width="6.5"/>
<line x1="723.5" y1="457" x2="750" y2="640" stroke="#e41f26" stroke-width="7"/>
<line x1="749" y1="639" x2="937" y2="606" stroke="#e41f26" stroke-width="7"/>
<line x1="1167.5" y1="436" x2="1174" y2="594" stroke="#e41f26" stroke-width="7"/>
<line x1="990" y1="607" x2="1087.5" y2="756" stroke="#e41f26" stroke-width="7"/>
<line x1="1031" y1="664" x2="1685" y2="624.5" stroke="#e41f26" stroke-width="7"/>
<line x1="1446" y1="582.5" x2="1584" y2="627.5" stroke="#e41f26" stroke-width="7"/>
<line x1="1584" y1="627.5" x2="1584" y2="810" stroke="#e41f26" stroke-width="7"/>
<line x1="1927" y1="687.5" x2="2275" y2="664" stroke="#e41f26" stroke-width="7"/>
<line x1="1919" y1="752.5" x2="1919" y2="907.5" stroke="#e41f26" stroke-width="7"/>
<line x1="2412" y1="628.75" x2="2412" y2="852.5" stroke="#e41f26" stroke-width="7"/>
<line x1="2484.75" y1="503.75" x2="2484.75" y2="868" stroke="#e41f26" stroke-width="7"/>
<line x1="238" y1="771" x2="473" y2="819" stroke="#e41f26" stroke-width="7"/>
<g transform="translate(1048,245) rotate(-0.3)"><text x="0" y="0" font-weight="700" font-size="72" textLength="116.0" lengthAdjust="spacingAndGlyphs" fill="#1d1d1b">360</text><text x="120.0" y="0" font-weight="400" font-size="72" textLength="100.0" lengthAdjust="spacingAndGlyphs" fill="#1d1d1b" stroke="#fdfdfd" stroke-width="1.1">cm</text></g>
<g transform="translate(229,377) rotate(-27)"><text x="0" y="0" font-weight="700" font-size="68" textLength="114.0" lengthAdjust="spacingAndGlyphs" fill="#1d1d1b">160</text><text x="116.0" y="0" font-weight="400" font-size="68" textLength="102.0" lengthAdjust="spacingAndGlyphs" fill="#1d1d1b" stroke="#fdfdfd" stroke-width="1.1">cm</text></g>
<g transform="translate(554,1266) rotate(-6.8)"><text x="0" y="0" font-weight="700" font-size="70" textLength="110.0" lengthAdjust="spacingAndGlyphs" fill="#1d1d1b">116</text><text x="115.0" y="0" font-weight="400" font-size="70" textLength="106.0" lengthAdjust="spacingAndGlyphs" fill="#1d1d1b" stroke="#fdfdfd" stroke-width="1.1">cm</text></g>
<g transform="translate(288,776) rotate(11)"><text x="0" y="0" font-weight="700" font-size="66" textLength="74.0" lengthAdjust="spacingAndGlyphs" fill="#1d1d1b">32</text><text x="78.0" y="0" font-weight="400" font-size="66" textLength="106.0" lengthAdjust="spacingAndGlyphs" fill="#1d1d1b" stroke="#fdfdfd" stroke-width="1.1">cm</text></g>
<g transform="translate(767,612) rotate(-6.6)"><text x="0" y="0" font-weight="700" font-size="66" textLength="74.0" lengthAdjust="spacingAndGlyphs" fill="#1d1d1b">35</text><text x="75.0" y="0" font-weight="400" font-size="66" textLength="104.0" lengthAdjust="spacingAndGlyphs" fill="#1d1d1b" stroke="#fdfdfd" stroke-width="1.1">cm</text></g>
<g transform="translate(670,470) rotate(83)"><text x="0" y="0" font-weight="700" font-size="72" textLength="68.0" lengthAdjust="spacingAndGlyphs" fill="#1d1d1b">35</text><text x="75.0" y="0" font-weight="400" font-size="72" textLength="106.0" lengthAdjust="spacingAndGlyphs" fill="#1d1d1b" stroke="#fdfdfd" stroke-width="1.1">cm</text></g>
<g transform="translate(1180,414) rotate(89)"><text x="0" y="0" font-weight="700" font-size="72" textLength="72.0" lengthAdjust="spacingAndGlyphs" fill="#1d1d1b">38</text><text x="77.0" y="0" font-weight="400" font-size="72" textLength="106.0" lengthAdjust="spacingAndGlyphs" fill="#1d1d1b" stroke="#fdfdfd" stroke-width="1.1">cm</text></g>
<g transform="translate(1245,637) rotate(-3)"><text x="0" y="0" font-weight="700" font-size="68" textLength="108.0" lengthAdjust="spacingAndGlyphs" fill="#1d1d1b">132</text><text x="112.0" y="0" font-weight="400" font-size="68" textLength="104.0" lengthAdjust="spacingAndGlyphs" fill="#1d1d1b" stroke="#fdfdfd" stroke-width="1.1">cm</text></g>
<g transform="translate(1425,562) rotate(21.6)"><text x="0" y="0" font-weight="700" font-size="70" textLength="78.0" lengthAdjust="spacingAndGlyphs" fill="#1d1d1b">65</text><text x="82.0" y="0" font-weight="400" font-size="70" textLength="98.0" lengthAdjust="spacingAndGlyphs" fill="#1d1d1b" stroke="#fdfdfd" stroke-width="1.1">cm</text></g>
<g transform="translate(936,618) rotate(62)"><text x="0" y="0" font-weight="700" font-size="70" textLength="108.0" lengthAdjust="spacingAndGlyphs" fill="#1d1d1b">130</text><text x="112.0" y="0" font-weight="400" font-size="70" textLength="100.0" lengthAdjust="spacingAndGlyphs" fill="#1d1d1b" stroke="#fdfdfd" stroke-width="1.1">cm</text></g>
<g transform="translate(1593,638) rotate(90)"><text x="0" y="0" font-weight="700" font-size="72" textLength="74.0" lengthAdjust="spacingAndGlyphs" fill="#1d1d1b">40</text><text x="78.0" y="0" font-weight="400" font-size="72" textLength="104.0" lengthAdjust="spacingAndGlyphs" fill="#1d1d1b" stroke="#fdfdfd" stroke-width="1.1">cm</text></g>
<g transform="translate(1997,676) rotate(-3.8)"><text x="0" y="0" font-weight="700" font-size="72" textLength="74.0" lengthAdjust="spacingAndGlyphs" fill="#1d1d1b">84</text><text x="78.0" y="0" font-weight="400" font-size="72" textLength="104.0" lengthAdjust="spacingAndGlyphs" fill="#1d1d1b" stroke="#fdfdfd" stroke-width="1.1">cm</text></g>
<g transform="translate(1928,751) rotate(90)"><text x="0" y="0" font-weight="700" font-size="72" textLength="72.0" lengthAdjust="spacingAndGlyphs" fill="#1d1d1b">32</text><text x="76.0" y="0" font-weight="400" font-size="72" textLength="100.0" lengthAdjust="spacingAndGlyphs" fill="#1d1d1b" stroke="#fdfdfd" stroke-width="1.1">cm</text></g>
<g transform="translate(2421,655) rotate(90)"><text x="0" y="0" font-weight="700" font-size="68" textLength="78.0" lengthAdjust="spacingAndGlyphs" fill="#1d1d1b">59</text><text x="82.0" y="0" font-weight="400" font-size="68" textLength="100.0" lengthAdjust="spacingAndGlyphs" fill="#1d1d1b" stroke="#fdfdfd" stroke-width="1.1">cm</text></g>
<g transform="translate(2495,596) rotate(90)"><text x="0" y="0" font-weight="700" font-size="72" textLength="72.0" lengthAdjust="spacingAndGlyphs" fill="#1d1d1b">75</text><text x="76.0" y="0" font-weight="400" font-size="72" textLength="104.0" lengthAdjust="spacingAndGlyphs" fill="#1d1d1b" stroke="#fdfdfd" stroke-width="1.1">cm</text></g>
<g transform="translate(913,1117) rotate(-90)"><text x="0" y="0" font-weight="700" font-size="70" textLength="30.0" lengthAdjust="spacingAndGlyphs" fill="#1d1d1b">5</text><text x="37.0" y="0" font-weight="400" font-size="70" textLength="106.0" lengthAdjust="spacingAndGlyphs" fill="#1d1d1b" stroke="#fdfdfd" stroke-width="1.1">cm</text></g>
<g transform="translate(699,1694) rotate(0)"><text x="0" y="0" font-weight="700" font-size="80" textLength="340.0" lengthAdjust="spacingAndGlyphs" fill="#676767">360 x 130</text></g>
</svg></body></html>
